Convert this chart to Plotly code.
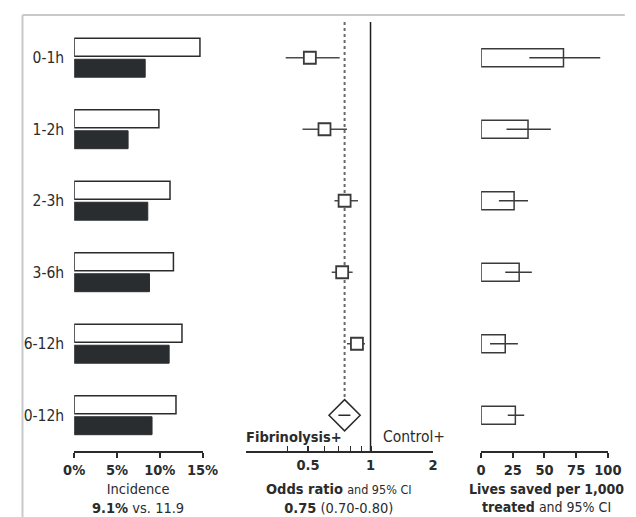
import plotly.graph_objects as go

# ---- data -------------------------------------------------------------
rows = ["0-1h", "1-2h", "2-3h", "3-6h", "6-12h", "0-12h"]

# incidence (%) : control (open bars) vs fibrinolysis (filled bars)
incidence_control = [14.7, 9.9, 11.2, 11.6, 12.6, 11.9]
incidence_fibrin = [8.3, 6.3, 8.6, 8.8, 11.1, 9.1]

# odds ratios with 95% CI (first five rows; last row is the pooled estimate)
odds_ratio = [0.51, 0.60, 0.75, 0.73, 0.86]
or_low = [0.39, 0.47, 0.67, 0.65, 0.77]
or_high = [0.71, 0.77, 0.87, 0.82, 0.94]
pooled_or = 0.75
pooled_low = 0.70
pooled_high = 0.80

# lives saved per 1,000 treated with 95% CI
lives_saved = [65, 37, 26, 30, 19, 27]
lives_low = [38, 20, 14, 19, 7, 21]
lives_high = [94, 55, 37, 40, 29, 34]

x_ticks_inc = [0, 5, 10, 15]
x_ticks_or = [0.5, 1, 2]
x_minor_or = [0.4, 0.6, 0.7, 0.8, 0.9]
x_ticks_lives = [0, 25, 50, 75, 100]

# ---- layout helpers ---------------------------------------------------
W, H = 636, 517
MT, MB = 22, 66
PH = H - MT - MB


def px_x(p):
    return p / W


def px_y(p):
    return (H - MB - p) / PH


FONT = "DejaVu Sans Condensed, Roboto, sans-serif"
INK = "#2b2b2b"
pos = list(range(len(rows)))

fig = go.Figure()

# incidence bars
fig.add_trace(go.Bar(
    x=incidence_control, y=pos, orientation="h", width=0.251, offset=-0.272,
    marker=dict(color="white", line=dict(color=INK, width=1.5)),
    xaxis="x", yaxis="y", showlegend=False))
fig.add_trace(go.Bar(
    x=incidence_fibrin, y=pos, orientation="h", width=0.251, offset=0.021,
    marker=dict(color="#2a2d30", line=dict(color="#2a2d30", width=1)),
    xaxis="x", yaxis="y", showlegend=False))

# pooled reference (dotted) line and null line
fig.add_trace(go.Scatter(
    x=[pooled_or, pooled_or], y=[-0.5, 5], mode="lines",
    line=dict(color="#6a6a6a", width=2, dash="dot"),
    xaxis="x2", yaxis="y2", showlegend=False, hoverinfo="skip"))
fig.add_trace(go.Scatter(
    x=[1, 1], y=[-0.5, 5.5], mode="lines",
    line=dict(color="#1e1e1e", width=1.5),
    xaxis="x2", yaxis="y2", showlegend=False, hoverinfo="skip"))

# odds ratio whiskers
wx, wy = [], []
for i in range(len(odds_ratio)):
    wx += [or_low[i], or_high[i], None]
    wy += [i, i, None]
fig.add_trace(go.Scatter(
    x=wx, y=wy, mode="lines", line=dict(color="#4a4a4a", width=1.5),
    xaxis="x2", yaxis="y2", showlegend=False, hoverinfo="skip"))
fig.add_trace(go.Scatter(
    x=odds_ratio, y=pos[:5], mode="markers",
    marker=dict(symbol="square", size=12, color="white",
                line=dict(color="#3a3a3a", width=1.8)),
    xaxis="x2", yaxis="y2", showlegend=False))

# pooled diamond with its CI
fig.add_trace(go.Scatter(
    x=[pooled_or], y=[5], mode="markers",
    marker=dict(symbol="diamond", size=24, color="white",
                line=dict(color="#2b2b2b", width=1.5)),
    xaxis="x2", yaxis="y2", showlegend=False))
fig.add_trace(go.Scatter(
    x=[pooled_low, pooled_high], y=[5, 5], mode="lines",
    line=dict(color="#2b2b2b", width=1.5),
    xaxis="x2", yaxis="y2", showlegend=False, hoverinfo="skip"))

# lives saved bars + CI
fig.add_trace(go.Bar(
    x=lives_saved, y=pos, orientation="h", width=0.25,
    marker=dict(color="white", line=dict(color="#3a3a3a", width=1.5)),
    xaxis="x3", yaxis="y3", showlegend=False))
lx, ly = [], []
for i in range(len(lives_saved)):
    lx += [lives_low[i], lives_high[i], None]
    ly += [i, i, None]
fig.add_trace(go.Scatter(
    x=lx, y=ly, mode="lines", line=dict(color="#3a3a3a", width=1.5),
    xaxis="x3", yaxis="y3", showlegend=False, hoverinfo="skip"))

tickfont = dict(family=FONT, size=14.5, color=INK, weight="bold")
xcommon = dict(showgrid=False, zeroline=False, showline=True, linecolor=INK,
               linewidth=1.5, ticklen=5, tickwidth=1.5,
               tickcolor=INK, tickfont=tickfont, fixedrange=True)
ycommon = dict(range=[5.5, -0.5], showgrid=False, zeroline=False,
               showline=False, fixedrange=True)

fig.update_layout(
    width=W, height=H,
    margin=dict(l=0, r=0, t=MT, b=MB),
    paper_bgcolor="white", plot_bgcolor="white",
    barmode="overlay", showlegend=False,
    font=dict(family=FONT, color=INK),
    xaxis=dict(domain=[px_x(66), px_x(200)], range=[0, 15], ticks="outside",
               tickvals=x_ticks_inc, ticktext=[f"{v}%" for v in x_ticks_inc],
               anchor="y", **xcommon),
    yaxis=dict(domain=[0, 1], anchor="x", tickvals=pos, ticktext=rows,
               tickfont=dict(family=FONT, size=15.5, color=INK),
               ticks="", ticklabelstandoff=9, **ycommon),
    xaxis2=dict(domain=[px_x(245), px_x(440.7)], type="log", ticks="inside",
                range=[-0.60206, 0.30103], tickvals=x_ticks_or,
                ticktext=[str(v) for v in x_ticks_or], anchor="y2",
                minor=dict(tickvals=x_minor_or, ticks="inside", ticklen=5,
                           tickwidth=1.3, tickcolor=INK),
                **xcommon),
    yaxis2=dict(domain=[0, 1], anchor="x2", showticklabels=False, **ycommon),
    xaxis3=dict(domain=[px_x(491), px_x(623.3)], range=[0, 100],
                ticks="outside", tickvals=x_ticks_lives, anchor="y3",
                **xcommon),
    yaxis3=dict(domain=[0, 1], anchor="x3", showticklabels=False, **ycommon),
)

# frame lines
frame = dict(color="#c9c9cd", width=2)
fig.add_shape(type="line", xref="paper", yref="paper",
              x0=px_x(12), x1=px_x(W + 5), y0=px_y(15), y1=px_y(15), line=frame)
fig.add_shape(type="line", xref="paper", yref="paper",
              x0=px_x(12), x1=px_x(12), y0=px_y(15), y1=px_y(H + 5), line=frame)


def note(text, x, y, size=17, anchor="center"):
    fig.add_annotation(text=text, xref="paper", yref="paper",
                       x=px_x(x), y=px_y(y), xanchor=anchor, yanchor="middle",
                       showarrow=False,
                       font=dict(family=FONT, size=size, color=INK))


note("<b>Fibrinolysis+</b>", 243, 437, size=14.5, anchor="left")
note("Control+", 386, 437, size=15.5, anchor="left")

note("Incidence<br><b>9.1%</b> vs. 11.9", 133, 498, size=14.5)
note("<b>Odds ratio</b> <span style='font-size:12.5px'>and 95% CI</span>"
     "<br><b>0.75</b> (0.70-0.80)", 343, 498, size=14.5)
note("<b>Lives saved per 1,000</b><br><b>treated</b> and 95% CI",
     559, 498, size=14)

fig.write_html("out.html")
